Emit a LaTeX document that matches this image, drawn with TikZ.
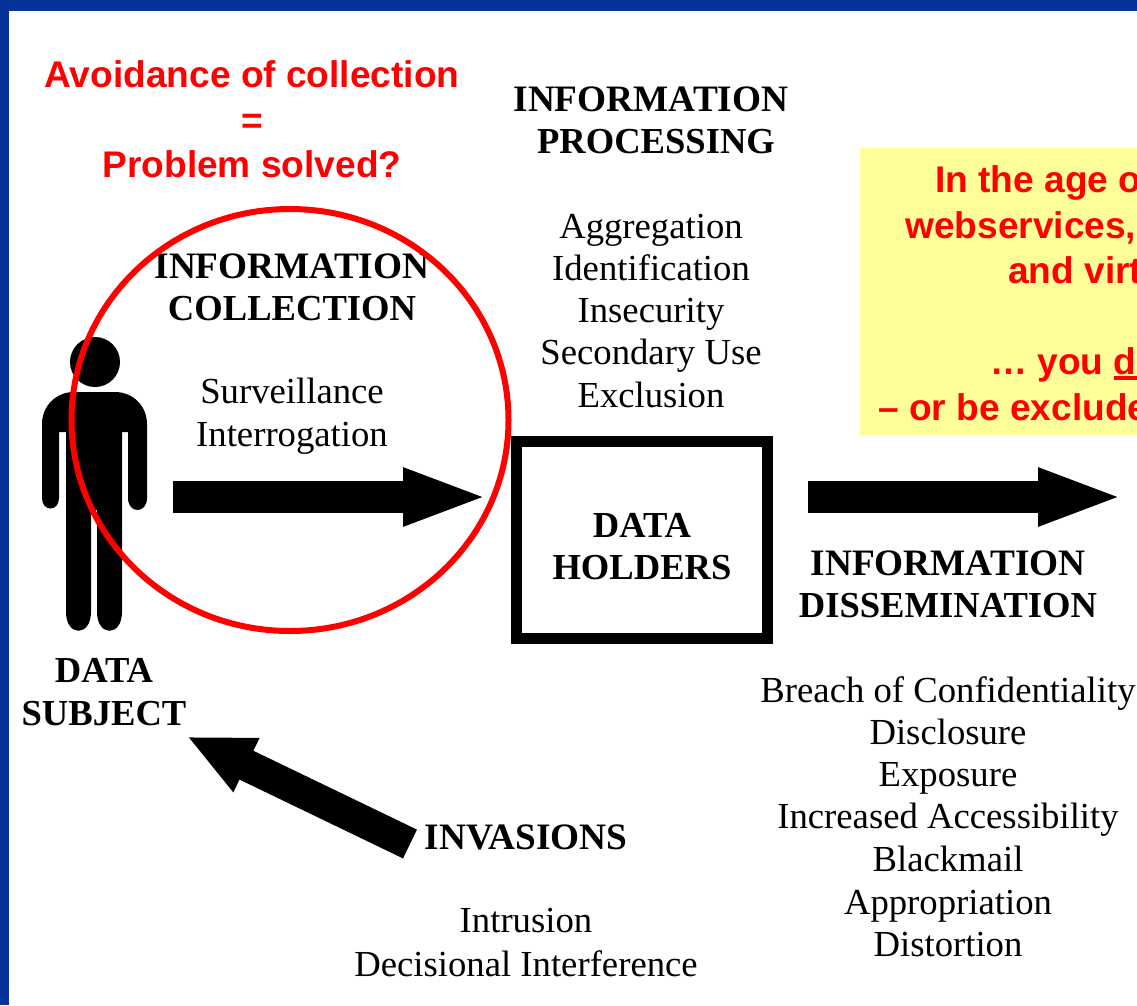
\documentclass[tikz,border=0pt]{standalone}
\usepackage{fontspec}
\setmainfont{Liberation Serif}
\newfontfamily\redfont{Liberation Sans}
\usetikzlibrary{arrows.meta,shapes.geometric}
\definecolor{frameblue}{HTML}{06329A}
\definecolor{noteyellow}{HTML}{FFFF99}
\newcommand{\thickul}[1]{\setbox0\hbox{#1}\rlap{\rule[-5.5pt]{\wd0}{3.5pt}}\box0}
\tikzset{
  x=1pt,y=-1pt,
  plain/.style={anchor=base,inner sep=0pt,font=\fontsize{36.7}{40}\selectfont},
  heading/.style={plain,font=\fontsize{36.6}{40}\selectfont\bfseries},
  wideheading/.style={plain,font=\fontsize{37.3}{40}\selectfont\bfseries},
  redtext/.style={anchor=base,inner sep=0pt,text=red,font=\fontsize{37.1}{40}\selectfont\redfont\bfseries},
  redleft/.style={redtext,anchor=base west},
  bigarrow/.style={line width=32pt,-{Triangle[length=86pt,width=52pt]}},
  smallhead/.style={line width=32pt,-{Triangle[length=66pt,width=55pt]}},
}
\begin{document}
\begin{tikzpicture}
\useasboundingbox (0,0) rectangle (1137,1005);
\fill[white] (0,0) rectangle (1137,1005);
\fill[frameblue] (0,0) rectangle (1137,11);
\fill[frameblue] (0,0) rectangle (9,1005);
\begin{scope}
\clip (0,0) rectangle (1137,1005);
\fill[noteyellow] (860,148) rectangle (1137,435);
\node[redleft] (n1) at (935,192.5) {In the age o};
\node[redleft] (n2) at (905,238) {webservices,};
\node[redleft] (n3) at (1008,283.5) {and virt};
\node[redleft] (n4) at (990,374) {… you \thickul{d}};
\node[redleft] (n5) at (878,420) {– or be exclude};
\end{scope}
% person
\fill[black] (95,362) circle (25);
\fill[black] (42,424) .. controls (42,406) and (56,392) .. (74,392) -- (115,392) .. controls (133,392) and (147,406) .. (147,424) -- (147,498) .. controls (147,514) and (128,514) .. (128,498) -- (128,432) -- (122,432) -- (122,612) .. controls (122,637) and (97,637) .. (97,612) -- (97,510) -- (91,510) -- (91,612) .. controls (91,637) and (66,637) .. (66,612) -- (66,432) -- (59,432) -- (59,498) .. controls (59,512) and (42,512) .. (42,498) -- cycle;
% box
\draw[line width=11pt] (516.5,441.5) rectangle (767.5,638.5);
\node[heading] (dh1) at (642,537) {DATA};
\node[heading] (dh2) at (642,579) {HOLDERS};
% arrows
\coordinate (a1s) at (173,497); \coordinate (a1e) at (489,497);
\coordinate (a2s) at (808,497); \coordinate (a2e) at (1124,497);
\coordinate (a3s) at (410,844); \coordinate (a3e) at (187,736.5);
\draw[bigarrow] (a1s) -- (a1e);
\draw[bigarrow] (a2s) -- (a2e);
\draw[smallhead] (a3s) -- (a3e);
% text
\node[wideheading] (ip1) at (651,111) {INFORMATION};
\node[heading] (ip2) at (656,153) {PROCESSING};
\foreach \n/\t/\yy in {p1/Aggregation/238,p2/Identification/280,p3/Insecurity/322,p4/Secondary Use/364,p5/Exclusion/407}
  \node[plain] (\n) at (651,\yy) {\t};
\node[wideheading] (ic1) at (292,278) {INFORMATION};
\node[heading] (ic2) at (292,320) {COLLECTION};
\node[plain] (c1) at (292,403) {Surveillance};
\node[plain] (c2) at (292,446) {Interrogation};
\node[wideheading] (ds1) at (948,575) {INFORMATION};
\node[heading] (ds2) at (948,617) {DISSEMINATION};
\foreach \n/\t/\yy in {d1/Breach of Confidentiality/702,d2/Disclosure/744,d3/Exposure/786,d4/Increased Accessibility/828,d5/Blackmail/871,d6/Appropriation/914,d7/Distortion/956}
  \node[plain] (\n) at (948,\yy) {\t};
\node[heading] (su1) at (104,682) {DATA};
\node[heading] (su2) at (104,725) {SUBJECT};
\node[wideheading] (inv) at (526,849) {INVASIONS};
\node[plain] (i1) at (526,932) {Intrusion};
\node[plain] (i2) at (526,976) {Decisional Interference};
\node[redtext] (r1) at (252,87) {Avoidance of collection};
\node[redtext] (r2) at (252,133) {=};
\node[redtext] (r3) at (252,177) {Problem solved?};
\node[draw=red,line width=6pt,ellipse,minimum width=437pt,minimum height=422pt,inner sep=0pt] (ring) at (290,420) {};
\end{tikzpicture}
\end{document}
